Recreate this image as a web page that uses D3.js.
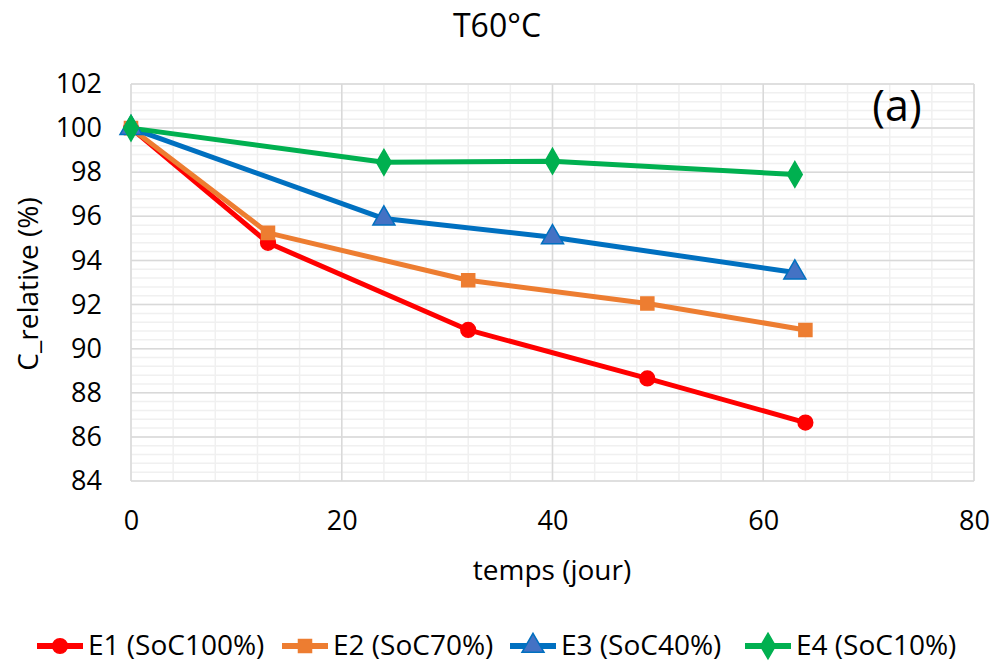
<!DOCTYPE html>
<html>
<head>
<meta charset="utf-8">
<script src="https://cdn.jsdelivr.net/npm/d3@7"></script>
<style>
  body { margin: 0; background: #fff; }
  text { font-family: "Open Sans", "Noto Sans", sans-serif; fill: #000; }
</style>
</head>
<body>
<svg id="chart" width="994" height="664"></svg>
<script>
var xTicks = [0, 20, 40, 60, 80];
var yTicks = [84, 86, 88, 90, 92, 94, 96, 98, 100, 102];

var e1Days = [0, 13, 32, 49, 64];
var e1Vals = [100, 94.8, 90.85, 88.65, 86.65];
var e2Days = [0, 13, 32, 49, 64];
var e2Vals = [100, 95.25, 93.1, 92.05, 90.85];
var e3Days = [0, 24, 40, 63];
var e3Vals = [100, 95.9, 95.05, 93.45];
var e4Days = [0, 24, 40, 63];
var e4Vals = [100, 98.45, 98.5, 97.9];

var seriesNames = ["E1 (SoC100%)", "E2 (SoC70%)", "E3 (SoC40%)", "E4 (SoC10%)"];
var seriesColors = ["#ff0000", "#ed7d31", "#0070c0", "#00b050"];
var markerFill = ["#ff0000", "#ed7d31", "#4472c4", "#00b050"];
var markerShapes = [d3.symbolCircle, d3.symbolSquare, d3.symbolTriangle, d3.symbolDiamond];
var markerSizes = [170, 170, 210, 190];

var series = [
  { days: e1Days, vals: e1Vals },
  { days: e2Days, vals: e2Vals },
  { days: e3Days, vals: e3Vals },
  { days: e4Days, vals: e4Vals }
];

var svg = d3.select("#chart");
var plotLeft = 131, plotRight = 974, plotTop = 84, plotBottom = 481;

var x = d3.scaleLinear().domain([0, 80]).range([plotLeft, plotRight]);
var y = d3.scaleLinear().domain([84, 102]).range([plotBottom, plotTop]);

// minor gridlines
var minorX = d3.range(0, 80.01, 4);
var minorY = d3.range(84, 102.01, 0.4);
svg.append("g").selectAll("line").data(minorX).enter().append("line")
  .attr("x1", function(d){ return x(d); }).attr("x2", function(d){ return x(d); })
  .attr("y1", plotTop).attr("y2", plotBottom)
  .attr("stroke", "#f0f0f0").attr("stroke-width", 1.5);
svg.append("g").selectAll("line").data(minorY).enter().append("line")
  .attr("y1", function(d){ return y(d); }).attr("y2", function(d){ return y(d); })
  .attr("x1", plotLeft).attr("x2", plotRight)
  .attr("stroke", "#f0f0f0").attr("stroke-width", 1.5);

// major gridlines
svg.append("g").selectAll("line").data(xTicks).enter().append("line")
  .attr("x1", function(d){ return x(d); }).attr("x2", function(d){ return x(d); })
  .attr("y1", plotTop).attr("y2", plotBottom)
  .attr("stroke", "#d9d9d9").attr("stroke-width", 1.5);
svg.append("g").selectAll("line").data(yTicks).enter().append("line")
  .attr("y1", function(d){ return y(d); }).attr("y2", function(d){ return y(d); })
  .attr("x1", plotLeft).attr("x2", plotRight)
  .attr("stroke", "#d9d9d9").attr("stroke-width", 1.5);

// axes (labels only)
var xAxis = d3.axisBottom(x).tickValues(xTicks).tickSize(0).tickPadding(30);
var gx = svg.append("g").attr("transform", "translate(0," + plotBottom + ")").call(xAxis);
gx.select(".domain").remove();
gx.selectAll("text").style("font-size", "27px").attr("fill", "#000");

var yAxis = d3.axisLeft(y).tickValues(yTicks).tickSize(0).tickPadding(29);
var gy = svg.append("g").attr("transform", "translate(" + plotLeft + ",0)").call(yAxis);
gy.select(".domain").remove();
gy.selectAll("text").style("font-size", "27px").attr("fill", "#000");

// lines and markers
var line = d3.line()
  .x(function(d){ return x(d[0]); })
  .y(function(d){ return y(d[1]); });

series.forEach(function(s, i){
  var pts = d3.zip(s.days, s.vals);
  svg.append("path").datum(pts)
    .attr("d", line)
    .attr("fill", "none")
    .attr("stroke", seriesColors[i])
    .attr("stroke-width", 5)
    .attr("stroke-linejoin", "round");
});
series.forEach(function(s, i){
  var pts = d3.zip(s.days, s.vals);
  svg.append("g").selectAll("path").data(pts).enter().append("path")
    .attr("d", d3.symbol().type(markerShapes[i]).size(markerSizes[i]))
    .attr("transform", function(d){ return "translate(" + x(d[0]) + "," + y(d[1]) + ")"; })
    .attr("fill", markerFill[i])
    .attr("stroke", seriesColors[i])
    .attr("stroke-width", 1.5);
});

// titles
svg.append("text").attr("x", 497).attr("y", 37).attr("text-anchor", "middle")
  .style("font-size", "32px").text("T60°C");
svg.append("text").attr("x", 897).attr("y", 121).attr("text-anchor", "middle")
  .style("font-size", "43px").text("(a)");
svg.append("text").attr("x", 552).attr("y", 580).attr("text-anchor", "middle")
  .style("font-size", "28px").text("temps (jour)");
svg.append("text").attr("transform", "translate(38,284) rotate(-90)")
  .attr("text-anchor", "middle").style("font-size", "28px").text("C_relative (%)");

// legend
var legendX = [37, 282, 510, 745];
var legendW = 46;
var legendY = 646;
seriesNames.forEach(function(name, i){
  var g = svg.append("g");
  g.append("line").attr("x1", legendX[i]).attr("x2", legendX[i] + legendW)
    .attr("y1", legendY).attr("y2", legendY)
    .attr("stroke", seriesColors[i]).attr("stroke-width", 6);
  g.append("path")
    .attr("d", d3.symbol().type(markerShapes[i]).size(markerSizes[i]))
    .attr("transform", "translate(" + (legendX[i] + legendW / 2) + "," + legendY + ")")
    .attr("fill", markerFill[i]).attr("stroke", seriesColors[i]).attr("stroke-width", 1.5);
  g.append("text").attr("x", legendX[i] + legendW + 5).attr("y", legendY + 9)
    .style("font-size", "28px").text(name);
});
</script>
</body>
</html>
